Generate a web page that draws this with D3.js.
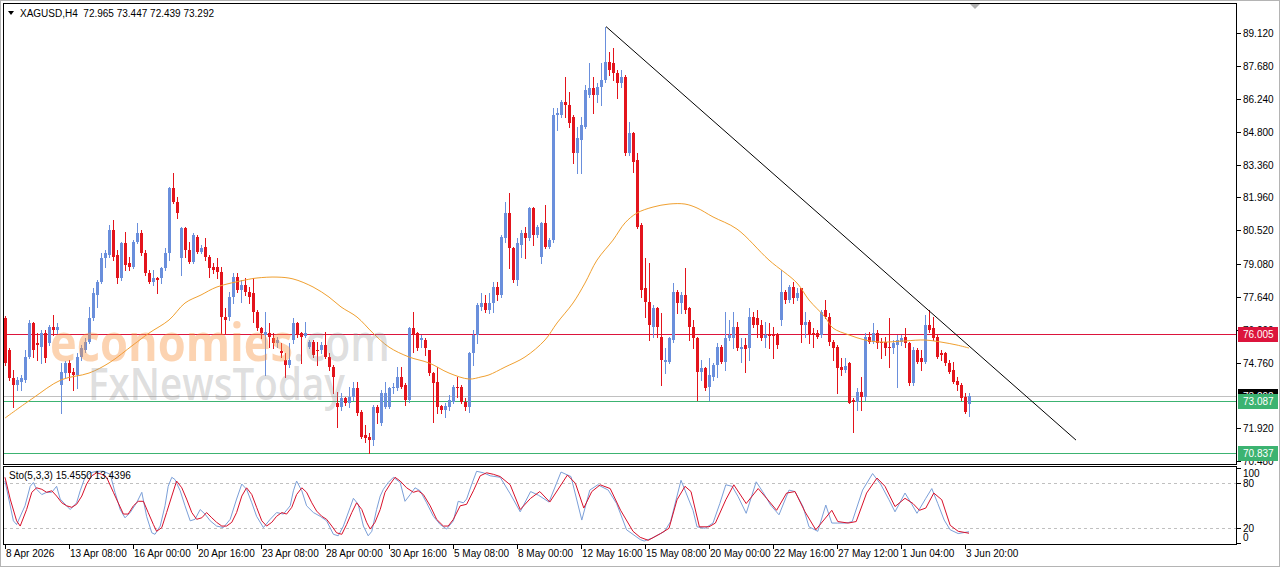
<!DOCTYPE html>
<html lang="en">
<head>
<meta charset="UTF-8" />
<title>XAGUSD,H4</title>
<script src="https://d3js.org/d3.v7.min.js"></script>
<style>
  body { margin: 0; background: #fff; }
  svg { display: block; font-family: "Liberation Sans", Tahoma, sans-serif; }
</style>
</head>
<body>
<svg id="chart" width="1280" height="567"></svg>
<script>
// ---- data (H4 bars, 8 Apr -> 4 Jun 2026) ----
var candleOpen = [
  76.71,75.31,74.09,73.79,73.92,74.01,75.01,76.49,75.62,75.44, 76.05,75.62,76.32,76.18,73.79,74.31,74.75,74.36,74.23,75.01,
  75.31,75.66,76.71,77.71,78.28,79.32,79.45,80.54,79.45,78.45, 79.97,79.10,78.93,80.02,80.41,79.54,78.67,78.28,78.45,78.45,
  78.88,79.54,82.37,81.76,79.32,80.63,79.67,79.15,80.23,79.58, 79.80,79.36,78.93,78.93,78.71,76.75,76.75,77.62,78.49,77.93,
  78.14,77.84,77.80,76.97,76.27,75.97,76.05,75.84,75.62,75.27, 74.88,74.66,75.75,76.49,76.05,75.92,75.44,75.66,75.31,75.31,
  75.53,75.01,74.57,73.00,72.83,73.22,73.00,73.27,73.66,72.61, 71.61,71.52,71.39,72.83,72.13,72.83,72.83,73.66,73.66,74.14,
  73.79,73.14,76.27,76.05,75.75,75.75,75.31,74.31,73.92,72.87, 72.70,72.83,73.05,73.70,73.70,73.05,72.83,75.18,75.97,77.19,
  77.36,77.06,77.36,78.06,77.71,80.19,81.28,79.76,78.36,79.89, 80.41,80.19,81.50,80.32,79.36,80.85,79.80,80.10,85.55,85.55,
  86.11,85.98,85.46,83.89,84.46,85.03,86.42,86.72,86.42,86.77, 87.07,87.86,87.81,87.38,86.94,87.20,83.89,84.76,83.59,80.76,
  78.01,77.40,76.32,77.14,75.88,74.79,74.79,75.75,77.84,77.36, 77.71,77.14,76.32,75.84,74.36,74.53,73.70,74.14,74.66,75.44,
  74.79,75.84,75.84,76.32,75.36,75.53,75.40,76.75,76.71,76.40, 75.84,76.01,75.97,76.01,76.62,77.84,77.49,78.06,77.58,78.01,
  76.40,76.53,76.05,76.05,75.97,77.06,76.75,75.66,75.44,74.57, 74.44,74.75,73.14,73.05,73.48,73.27,75.88,75.66,76.05,75.66,
  75.66,75.44,75.40,75.53,75.66,75.88,75.62,73.88,75.31,74.97, 74.79,76.40,76.27,75.88,75.18,75.18,74.75,74.44,73.96,73.79,
  73.27,72.965
];
var candleHigh = [
  76.79,75.40,74.44,74.14,74.23,75.31,76.62,76.53,76.05,76.18, 76.18,76.40,76.84,76.49,74.75,74.83,74.88,74.53,75.18,75.53,
  75.84,77.19,78.01,78.36,79.54,79.67,80.76,80.98,79.67,80.02, 80.45,79.36,80.10,80.85,80.54,79.67,78.80,78.80,78.49,78.93,
  79.76,82.41,83.02,81.98,80.67,80.67,80.02,80.41,80.32,79.89, 80.19,79.45,79.10,79.32,78.93,77.14,77.84,78.67,78.67,78.36,
  78.45,78.06,78.45,77.06,76.32,76.97,76.49,76.05,75.88,75.62, 75.18,75.62,76.71,76.53,76.10,76.53,75.75,75.75,75.66,75.66,
  76.10,75.18,74.66,73.48,73.44,73.27,73.70,73.92,73.92,72.70, 72.05,71.70,72.92,72.92,73.57,73.92,73.70,73.88,74.57,74.57,
  73.88,76.32,76.97,76.10,75.97,75.84,75.31,74.36,74.57,72.92, 73.00,73.35,73.79,74.14,73.79,73.22,75.23,76.18,77.36,77.80,
  77.71,77.80,78.28,78.28,80.32,81.76,82.15,79.80,80.19,80.54, 80.67,81.54,81.54,80.76,80.89,81.63,80.19,85.85,85.85,86.20,
  87.20,86.55,85.55,85.03,85.46,86.85,87.81,87.20,86.94,87.81, 89.38,88.29,88.47,87.51,87.51,87.29,85.24,84.81,83.89,80.85,
  79.32,79.10,77.27,77.19,76.93,75.40,75.88,78.23,77.93,77.84, 78.88,77.19,76.62,75.88,74.88,74.57,74.97,74.75,75.62,75.53,
  76.97,76.62,76.97,76.53,75.84,75.84,77.14,76.97,77.06,76.62, 76.53,76.49,76.32,76.05,78.80,77.93,78.14,78.28,78.01,78.01,
  76.97,76.62,76.27,76.18,77.06,77.49,76.93,75.75,75.53,74.97, 74.97,74.79,73.22,73.66,74.14,76.05,76.10,76.49,76.18,75.84,
  75.88,76.71,75.75,75.97,75.97,76.27,75.66,75.44,75.40,75.31, 76.84,77.06,76.75,75.97,75.31,75.23,74.88,74.79,74.14,73.88,
  73.44,73.447
];
var candleLow = [
  74.66,74.01,72.83,73.57,73.57,73.92,74.97,75.01,74.88,74.75, 74.79,75.53,75.97,76.05,72.57,74.14,74.01,73.57,73.66,74.88,
  75.23,75.62,76.62,77.19,78.23,78.93,79.36,79.23,78.23,78.36, 78.80,78.80,78.88,79.97,79.45,78.58,78.23,78.14,77.80,78.23,
  78.80,79.23,81.72,81.06,78.58,79.36,79.10,79.10,79.54,79.54, 79.23,78.49,78.67,78.45,76.05,76.05,76.62,77.36,77.84,77.40,
  77.71,77.36,76.53,76.18,75.84,74.23,75.44,75.40,75.44,75.01, 74.14,74.57,75.62,75.88,74.75,75.88,75.40,75.01,74.66,75.18,
  74.97,74.44,73.44,71.96,72.70,72.92,72.83,73.14,72.48,71.48, 71.31,70.83,71.18,72.13,72.05,72.79,72.79,73.44,73.57,73.66,
  72.92,73.05,75.23,75.31,75.44,75.10,74.23,72.18,72.57,72.57, 72.39,72.70,73.00,73.27,73.00,72.70,72.61,74.66,75.62,77.06,
  76.97,76.93,76.97,77.49,77.62,80.02,78.88,78.28,78.14,79.36, 79.32,80.10,79.89,80.23,79.10,79.76,79.76,80.02,84.90,85.46,
  85.46,85.03,83.45,83.02,83.02,84.98,86.33,85.64,86.11,85.98, 86.99,87.29,87.07,86.29,86.77,83.81,83.81,83.07,80.63,77.62,
  76.75,75.75,75.88,75.88,73.79,74.31,74.75,75.66,76.93,76.93, 76.93,75.75,75.40,73.14,74.01,73.57,73.14,74.01,74.14,74.75,
  74.44,75.75,75.40,75.31,74.79,74.36,74.88,76.32,75.88,75.75, 75.44,75.40,74.97,75.40,76.40,77.36,77.40,77.36,77.49,75.66,
  75.88,75.62,75.44,75.84,75.88,76.71,75.53,74.88,73.44,74.23, 74.36,73.00,71.74,72.70,72.70,73.14,75.62,75.62,75.40,74.97,
  75.10,74.57,75.18,73.70,75.53,75.44,73.79,73.79,74.75,74.44, 74.75,76.10,75.75,74.97,74.88,74.66,74.31,73.88,73.57,73.14,
  72.57,72.439
];
var candleClose = [
  74.75,74.09,73.79,74.01,74.09,75.01,76.49,75.31,75.53,76.05, 74.97,76.32,76.18,76.32,74.36,74.75,74.31,74.23,75.01,75.40,
  75.66,76.71,77.80,78.28,79.32,79.54,80.54,79.36,78.45,79.97, 79.02,78.93,80.02,80.41,79.54,78.67,78.28,78.45,78.36,78.88,
  79.54,82.37,81.76,81.28,80.63,79.67,79.15,80.32,79.58,79.76, 79.36,78.88,78.80,78.71,76.75,76.62,77.62,78.49,77.93,78.14,
  77.84,77.62,76.97,76.27,76.05,76.10,75.88,75.62,75.75,75.18, 74.66,74.88,76.49,75.97,75.88,76.05,75.66,75.10,75.27,75.53,
  75.01,74.57,74.14,72.83,73.22,73.00,73.27,73.66,72.57,71.52, 71.48,71.39,72.83,72.57,73.44,73.44,73.66,73.70,74.14,73.70,
  73.14,76.27,75.97,75.40,75.84,75.40,74.31,73.88,72.83,72.70, 72.87,73.14,73.70,73.66,73.05,72.83,75.18,75.97,77.27,77.36,
  77.06,77.36,78.06,77.71,80.23,81.28,79.76,78.36,79.97,80.41, 80.19,81.50,80.32,80.67,80.85,79.80,80.10,85.55,85.64,86.11,
  85.98,85.20,83.89,84.55,85.11,86.64,86.72,86.42,86.77,87.07, 87.86,87.51,87.38,86.94,87.20,83.89,84.76,83.50,80.67,77.93,
  77.40,76.40,77.14,76.32,74.88,74.88,75.84,77.84,77.36,77.71, 77.06,76.32,75.84,74.36,74.53,73.66,74.23,74.66,75.44,74.79,
  75.84,75.97,76.32,75.40,75.44,75.36,76.75,76.40,76.40,75.84, 75.97,75.92,75.92,75.53,77.84,77.49,78.06,77.58,77.80,76.40,
  76.53,75.97,75.97,75.88,76.97,76.75,75.66,75.40,74.53,74.44, 74.62,73.00,73.05,73.48,73.27,75.88,75.66,76.05,75.62,75.62,
  75.40,75.40,75.62,75.75,75.84,75.62,73.88,75.31,74.79,74.79, 76.40,76.18,75.84,75.01,75.10,74.75,74.36,73.92,73.79,73.22,
  72.61,73.292
];

// moving average (orange), read at points along the curve: [bar, price]
var maPoints = [
  [0,72.35],[7,73.22],[14,74.01],[21,74.31],[26,74.75],[32,75.53],[36,76.05],[41,76.62],[45,77.36],[49,77.71],
  [53,78.06],[60,78.36],[63,78.45],[68,78.49],[72,78.41],[77,78.06],[81,77.62],[84,77.19],[88,76.75],[92,76.05],
  [96,75.44],[101,75.01],[106,74.75],[111,74.31],[116,74.05],[119,74.14],[121,74.23],[125,74.57],[130,75.01],[135,75.75],
  [138,76.49],[142,77.36],[145,78.23],[148,79.23],[152,80.10],[155,80.85],[158,81.28],[162,81.54],[166,81.67],[170,81.67],
  [173,81.50],[177,81.11],[183,80.58],[191,79.23],[198,78.23],[201,77.49],[205,76.75],[207,76.27],[211,75.97],[215,75.75],
  [219,75.66],[225,75.71],[230,75.75],[234,75.66],[238,75.53],[241,75.40]
];

// stochastic (5,3,3): %K main (blue) and %D signal (red), [bar, value]
var stochK = [
  [0,83],[2.1,30],[2.9,25],[5,50],[6.3,76],[7.1,81],[7.9,72],[9.2,65],[10.4,68],[11.7,68],[12.9,76],[13.8,59],[15.4,50],[16.3,45],
  [17.9,54],[18.8,70],[20,88],[21.3,94],[22.9,96],[24.6,96],[26.3,92],[27.5,68],[28.8,45],[30,34],[31.3,41],[32.9,54],[34.2,68],
  [35.4,36],[36.7,14],[37.5,12],[38.8,23],[40,50],[40.8,76],[41.7,88],[42.5,85],[43.8,70],[45,50],[46.3,30],[47.5,32],[48.8,45],
  [50,39],[51.3,30],[52.9,23],[54.6,21],[56.3,32],[57.9,59],[59.2,79],[60.4,72],[61.7,54],[62.9,36],[64.6,21],[66.3,32],[67.9,41],
  [69.6,39],[71.3,50],[72.1,70],[72.9,83],[74.2,70],[75.4,50],[77.1,41],[78.8,36],[80.4,30],[82.1,12],[83.3,10],[84.6,23],[86.3,48],
  [87.1,60],[88.3,52],[89.6,23],[90.8,10],[91.7,16],[92.9,45],[93.8,63],[94.6,72],[95.8,81],[97.1,88],[98.8,81],[100,56],[101.3,65],
  [102.5,74],[103.8,70],[105.4,54],[107.1,36],[108.8,25],[110.4,19],[112.1,30],[113.3,56],[114.6,54],[115.4,59],[116.7,79],[117.9,96],
  [119.6,94],[121.3,90],[123.8,88],[126.3,66],[128.8,42],[131.4,69],[133.4,64],[136,55],[139,95],[141.5,89],[144.2,31],[146.2,71],
  [148.2,78],[150.8,71],[152.9,53],[155.4,18],[158.8,5],[159.8,3],[161.8,7],[164.9,16],[166.4,29],[169,84],[172,44],[173,22],[175,20],
  [177,27],[178.7,53],[180.2,78],[181.8,76],[183.3,62],[185.3,40],[187.8,82],[189.4,69],[191.4,51],[193.5,38],[196,71],[197.5,69],
  [199.5,49],[201,22],[203.2,16],[205.2,51],[206.7,27],[208.2,27],[210.3,27],[211.8,29],[214.4,71],[216.9,93],[219,78],[221,58],
  [222.5,42],[225,67],[226.6,53],[228,40],[230.2,60],[231.7,73],[233.2,53],[234.8,31],[236.3,18],[238.3,13],[241,15.455]
];
var stochD = [
  [0,88],[1.3,59],[2.9,30],[3.8,23],[5.4,45],[6.7,68],[7.9,74],[9.2,72],[10.4,68],[11.7,70],[12.9,63],[14.2,54],[15.4,50],[16.7,48],
  [17.9,52],[19.2,63],[20.4,79],[21.7,90],[22.9,94],[24.2,92],[25.4,88],[27.1,68],[28.3,54],[29.6,39],[30.8,39],[32.1,50],[33.3,56],
  [34.6,56],[35.8,41],[37.1,25],[37.9,16],[39.2,21],[40.4,41],[41.7,63],[42.9,83],[44.2,74],[45.4,59],[46.7,41],[47.9,32],[49.2,34],
  [50.4,41],[51.7,34],[52.9,28],[54.2,23],[55.4,23],[56.7,28],[57.9,41],[59.2,63],[60.4,74],[61.7,65],[62.9,48],[64.2,30],[65.4,23],
  [66.7,28],[67.9,36],[69.2,41],[70.4,39],[71.7,48],[72.9,65],[74.2,74],[75.4,68],[76.7,54],[77.9,43],[79.2,36],[80.4,32],[81.7,23],
  [82.9,14],[84.2,12],[85.4,25],[86.7,41],[87.9,54],[89.2,45],[90.4,28],[91.3,19],[92.5,28],[93.8,45],[95,68],[96.3,79],[97.5,88],
  [98.8,83],[100.4,74],[102.1,68],[103.3,70],[104.6,65],[106.3,50],[107.9,32],[109.6,23],[110.8,23],[112.1,32],[113.8,50],[115.4,52],
  [117.1,70],[118.8,90],[120.4,94],[122.1,92],[123.8,89],[126.3,78],[128.8,45],[131.4,60],[133.7,69],[136.2,55],[140.6,91],[142.6,80],
  [144.7,47],[146.7,69],[148.8,78],[151.3,73],[153.9,44],[157,16],[158.8,8],[160.8,4],[163.9,13],[166,20],[168,58],[170,76],[171.5,69],
  [173.6,22],[176,22],[177.6,27],[180.2,58],[182.2,78],[185.3,53],[188.3,73],[190.4,60],[192.9,44],[195.4,67],[197.5,69],[200,42],
  [202.7,18],[206.7,44],[208.2,29],[210.8,27],[212.8,29],[215.4,67],[218,87],[220,76],[222.5,49],[225,60],[227,53],[228.6,44],
  [230.2,47],[232.2,67],[234.2,58],[236.3,24],[238.3,16],[241,13.4396]
];

// price-axis labels; 73.320 sits under the price boxes in the screenshot and is not shown
var priceTicks = [89.12, 87.68, 86.24, 84.80, 83.36, 81.96, 80.52, 79.08, 77.64, 76.20, 74.76, 71.92, 70.48];
var stochTicks = [100, 80, 20, 0];
var timeLabelBars = [0, 16, 32, 48, 64, 80, 96, 112, 128, 144, 160, 176, 192, 208, 224, 240];
var timeLabels = ["8 Apr 2026", "13 Apr 08:00", "16 Apr 00:00", "20 Apr 16:00", "23 Apr 08:00", "28 Apr 00:00",
  "30 Apr 16:00", "5 May 08:00", "8 May 00:00", "12 May 16:00", "15 May 08:00", "20 May 00:00",
  "22 May 16:00", "27 May 12:00", "1 Jun 04:00", "3 Jun 20:00"];

// horizontal levels and the falling trend line
var levelPrices = [76.005, 73.087, 70.837];
var levelColors = ["#dc143c", "#3cb371", "#3cb371"];
var bidPrice = 73.292;
var trendLine = [[150.25, 89.40], [267.75, 71.39]];

var svg = d3.select("#chart");
var bull = "#6a8fdc", bear = "#e3141c";

// scales: bar index -> x, price -> y, stochastic -> y
var x = d3.scaleLinear().domain([0, 241]).range([5, 969]);
var y = d3.scaleLinear().domain([70.48, 89.12]).range([461, 33]);
var ys = d3.scaleLinear().domain([0, 100]).range([543.3, 468.3]);

svg.append("rect").attr("width", 1280).attr("height", 567).attr("fill", "#fff");

var defs = svg.append("defs");
defs.append("clipPath").attr("id", "clipMain")
  .append("rect").attr("x", 4).attr("y", 4).attr("width", 1232).attr("height", 460);
// the price boxes cover the axis labels behind them
defs.append("clipPath").attr("id", "clipAbove76")
  .append("rect").attr("x", 1237).attr("y", 300).attr("width", 43).attr("height", Math.round(y(76.005)) - 7 - 300);
defs.append("clipPath").attr("id", "clipBid")
  .append("rect").attr("x", 1237).attr("y", Math.round(y(bidPrice)) - 7).attr("width", 43)
  .attr("height", Math.round(y(73.087)) - Math.round(y(bidPrice)));

var main = svg.append("g").attr("clip-path", "url(#clipMain)");

// level lines
main.selectAll("line.level").data(levelPrices).enter().append("line")
  .attr("x1", 4).attr("x2", 1236)
  .attr("y1", d => Math.round(y(d)) + 0.5).attr("y2", d => Math.round(y(d)) + 0.5)
  .attr("stroke", (d, i) => levelColors[i]).attr("stroke-width", 1);
main.append("line")
  .attr("x1", 4).attr("x2", 1236)
  .attr("y1", Math.round(y(bidPrice)) + 0.5).attr("y2", Math.round(y(bidPrice)) + 0.5)
  .attr("stroke", "#c0c0c0");

// candles
var bars = d3.range(candleOpen.length);
var isBull = i => candleClose[i] >= candleOpen[i];
main.append("g").attr("shape-rendering", "crispEdges")
  .selectAll("line").data(bars).enter().append("line")
  .attr("x1", i => Math.round(x(i)) + 0.5).attr("x2", i => Math.round(x(i)) + 0.5)
  .attr("y1", i => Math.round(y(candleHigh[i]))).attr("y2", i => Math.round(y(candleLow[i])) + 1)
  .attr("stroke", i => isBull(i) ? bull : bear);
main.append("g").attr("shape-rendering", "crispEdges")
  .selectAll("rect").data(bars).enter().append("rect")
  .attr("x", i => Math.round(x(i)) - 1).attr("width", 3)
  .attr("y", i => Math.round(y(Math.max(candleOpen[i], candleClose[i]))))
  .attr("height", i => Math.max(1, Math.round(y(Math.min(candleOpen[i], candleClose[i]))) - Math.round(y(Math.max(candleOpen[i], candleClose[i])))))
  .attr("fill", i => isBull(i) ? bull : bear);

// moving average
main.append("path").datum(maPoints)
  .attr("d", d3.line().x(d => x(d[0])).y(d => y(d[1])).curve(d3.curveCatmullRom))
  .attr("fill", "none").attr("stroke", "#f0a030").attr("stroke-width", 1);

// trend line
main.append("line")
  .attr("x1", x(trendLine[0][0])).attr("y1", y(trendLine[0][1]))
  .attr("x2", x(trendLine[1][0])).attr("y2", y(trendLine[1][1]))
  .attr("stroke", "#000").attr("stroke-width", 1);

// watermark
var wm = main.append("g").attr("font-family", "'Open Sans', 'Liberation Sans', sans-serif");
wm.append("text").attr("x", 50).attr("y", 361).attr("font-size", 52).attr("font-weight", 700)
  .attr("textLength", 243).attr("lengthAdjust", "spacingAndGlyphs")
  .attr("fill", "#f79646").attr("fill-opacity", 0.42).text("economies");
wm.append("text").attr("x", 293).attr("y", 361).attr("font-size", 52).attr("font-weight", 600)
  .attr("textLength", 97).attr("lengthAdjust", "spacingAndGlyphs")
  .attr("fill", "#9a9a9a").attr("fill-opacity", 0.32).text(".com");
wm.append("text").attr("x", 88).attr("y", 400).attr("font-size", 45).attr("font-weight", 600)
  .attr("textLength", 257).attr("lengthAdjust", "spacingAndGlyphs")
  .attr("fill", "#9a9a9a").attr("fill-opacity", 0.32).text("FxNewsToday");

// stochastic panel
var sto = svg.append("g");
sto.selectAll("line.lvl").data([80, 20]).enter().append("line")
  .attr("x1", 4).attr("x2", 1236)
  .attr("y1", d => Math.round(ys(d)) + 0.5).attr("y2", d => Math.round(ys(d)) + 0.5)
  .attr("stroke", "#c0c0c0").attr("stroke-dasharray", "3,3");
var stoLine = d3.line().x(d => x(d[0])).y(d => ys(d[1]));
sto.append("path").datum(stochK).attr("d", stoLine)
  .attr("fill", "none").attr("stroke", "#7b9fd8").attr("stroke-width", 1);
sto.append("path").datum(stochD).attr("d", stoLine)
  .attr("fill", "none").attr("stroke", "#d8102a").attr("stroke-width", 1);
sto.append("text").attr("x", 9).attr("y", 479).attr("font-size", 10).attr("fill", "#000")
  .text("Sto(5,3,3) 15.4550 13.4396");

// frames
var frame = svg.append("g").attr("shape-rendering", "crispEdges").attr("fill", "none");
frame.append("rect").attr("x", 0.5).attr("y", 0.5).attr("width", 1279).attr("height", 566).attr("stroke", "#b4b4b4");
frame.append("rect").attr("x", 3.5).attr("y", 3.5).attr("width", 1233).attr("height", 461).attr("stroke", "#000");
frame.append("rect").attr("x", 3.5).attr("y", 466.5).attr("width", 1233).attr("height", 78).attr("stroke", "#000");

// shift marker
svg.append("path").attr("d", "M970,4 L980,4 L975,9 Z").attr("fill", "#b0b0b0");

// header
svg.append("path").attr("d", "M8,11 L14,11 L11,15 Z").attr("fill", "#000");
svg.append("text").attr("x", 20).attr("y", 17).attr("font-size", 10).attr("fill", "#000")
  .attr("xml:space", "preserve").text("XAGUSD,H4  72.965 73.447 72.439 73.292");

// price axis
var axisG = svg.append("g").attr("font-size", 10);
axisG.selectAll("line").data(priceTicks).enter().append("line")
  .attr("x1", 1237).attr("x2", 1241)
  .attr("y1", d => Math.round(y(d)) + 0.5).attr("y2", d => Math.round(y(d)) + 0.5)
  .attr("stroke", "#000").attr("shape-rendering", "crispEdges");
axisG.selectAll("text").data(priceTicks).enter().append("text")
  .attr("x", 1243).attr("y", d => y(d) + 4).attr("fill", "#000")
  .attr("clip-path", d => d === 76.20 ? "url(#clipAbove76)" : null)
  .text(d => d.toFixed(3));

// price boxes: bid first (mostly hidden), then levels on top
function priceBox(price, color, clip) {
  var cy = y(price);
  svg.append("rect").attr("x", 1238).attr("y", Math.round(cy) - 7).attr("width", 40).attr("height", 15)
    .attr("fill", color).attr("shape-rendering", "crispEdges");
  svg.append("text").attr("x", 1243).attr("y", cy + 4).attr("font-size", 10).attr("fill", "#fff")
    .attr("clip-path", clip || null)
    .text(price.toFixed(3));
}
priceBox(bidPrice, "#000", "url(#clipBid)");
levelPrices.forEach((p, i) => priceBox(p, levelColors[i]));

// stochastic axis
var sAxis = svg.append("g").attr("font-size", 10);
sAxis.selectAll("line").data(stochTicks).enter().append("line")
  .attr("x1", 1237).attr("x2", 1241)
  .attr("y1", d => Math.round(ys(d)) + 0.5).attr("y2", d => Math.round(ys(d)) + 0.5)
  .attr("stroke", "#000").attr("shape-rendering", "crispEdges");
sAxis.selectAll("text").data(stochTicks).enter().append("text")
  .attr("x", 1243).attr("y", d => Math.min(537, Math.max(473, ys(d))) + 4).attr("fill", "#000")
  .text(d => d);

// time axis
var tAxis = svg.append("g").attr("font-size", 10);
tAxis.selectAll("line").data(timeLabelBars).enter().append("line")
  .attr("x1", d => Math.round(x(d)) + 0.5).attr("x2", d => Math.round(x(d)) + 0.5)
  .attr("y1", 545).attr("y2", 549).attr("stroke", "#000").attr("shape-rendering", "crispEdges");
tAxis.selectAll("text").data(timeLabelBars).enter().append("text")
  .attr("x", d => x(d) + 1).attr("y", 557).attr("fill", "#000")
  .text((d, i) => timeLabels[i]);
</script>
</body>
</html>
